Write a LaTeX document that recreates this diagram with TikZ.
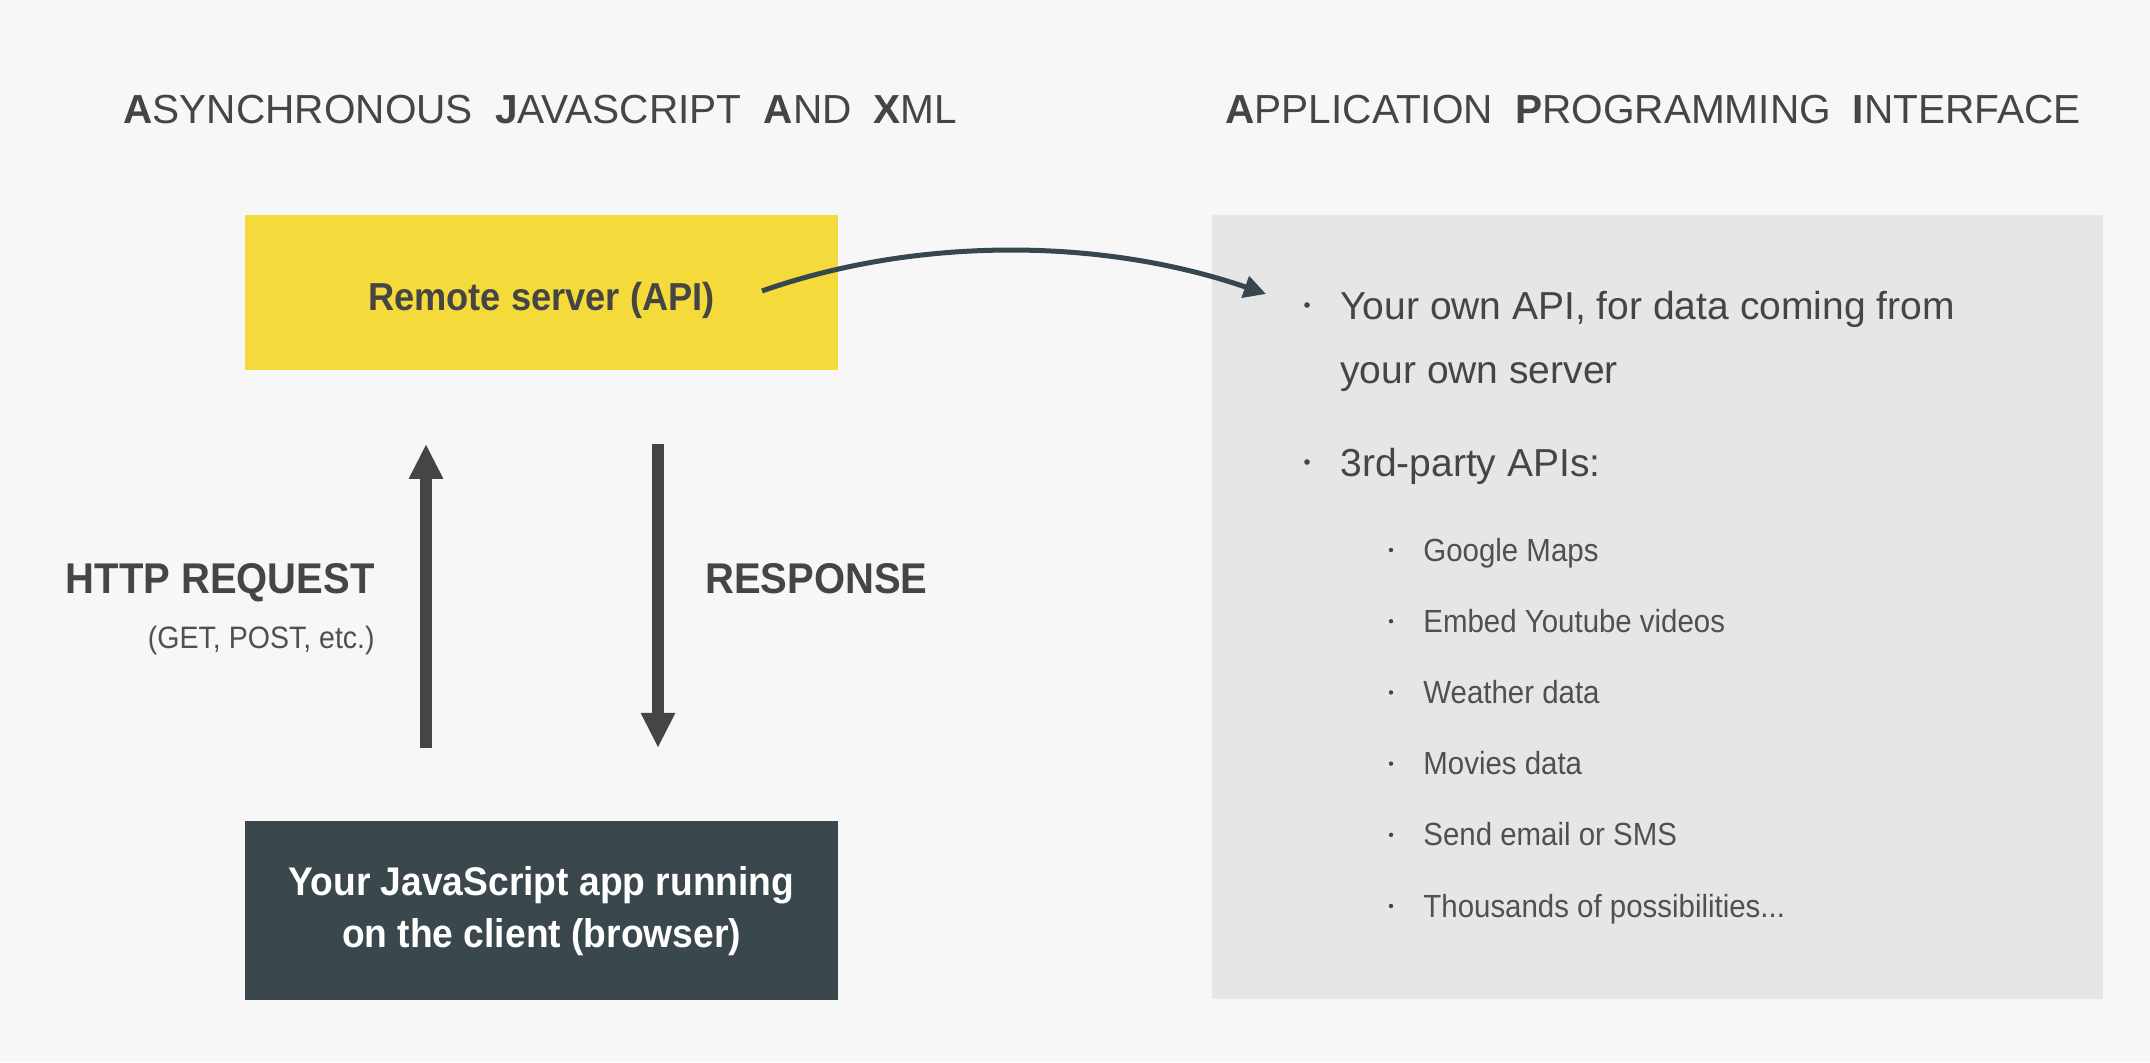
\documentclass[tikz,border=0pt]{standalone}
\usepackage{fontspec}
\setmainfont{Liberation Sans}
\newfontfamily\narrowfont[FakeStretch=0.93]{Liberation Sans}
\newfontfamily\lightfont[FakeStretch=0.92]{Liberation Sans}
\usepackage{xcolor}
\usetikzlibrary{arrows.meta, positioning}

\definecolor{pagegray}{HTML}{F7F7F7}
\definecolor{serveryellow}{HTML}{F4DA3B}
\definecolor{clientslate}{HTML}{3A474D}
\definecolor{panelgray}{HTML}{E6E6E6}
\definecolor{inkgray}{HTML}{454545}
\definecolor{softgray}{HTML}{505050}
\definecolor{curveslate}{HTML}{37474F}

\newcommand{\moredots}{...}

\begin{document}
\begin{tikzpicture}[
x=0.5pt, y=-0.5pt,
box/.style={rectangle, inner sep=0pt, minimum width=296.5pt, minimum height=77.5pt, align=center, font=\narrowfont\bfseries\fontsize{19.5}{24}\selectfont},
panel/.style={rectangle, inner sep=0pt, fill=panelgray, minimum width=445.5pt, minimum height=392pt},
heading/.style={anchor=base west, text=inkgray, inner sep=0pt, font=\fontsize{20.3}{24}\selectfont},
flowlabel/.style={text=inkgray, inner sep=0pt, font=\narrowfont\bfseries\fontsize{21.5}{26}\selectfont},
note/.style={text=softgray, inner sep=0pt, font=\lightfont\fontsize{15.5}{18}\selectfont},
item/.style={anchor=base west, text=inkgray, inner sep=0pt, font=\fontsize{19.5}{23}\selectfont},
subitem/.style={anchor=base west, text=softgray, inner sep=0pt, font=\lightfont\fontsize{16}{19}\selectfont},
dot/.style={circle, fill=inkgray, inner sep=0pt, minimum size=2.8pt},
smalldot/.style={circle, fill=inkgray, inner sep=0pt, minimum size=2.2pt},
arrow/.style={-{Triangle[length=17.5pt, width=16pt]}, line width=6pt, draw=inkgray},
curvearrow/.style={-{Triangle[length=11pt, width=11pt]}, line width=2.5pt, draw=curveslate}
]

\fill[pagegray] (0,0) rectangle (2150,1062);
\useasboundingbox (0,0) rectangle (2150,1062);

\node[heading] (ajaxtitle) at (123,123) {\textbf{A}SYNCHRONOUS\hspace{11pt}\textbf{J}AVASCRIPT\hspace{11pt}\textbf{A}ND\hspace{11pt}\textbf{X}ML};
\node[heading] (apititle) at (1225,123) {\textbf{A}PPLICATION\hspace{11pt}\textbf{P}ROGRAMMING\hspace{11pt}\textbf{I}NTERFACE};

\node[box, fill=serveryellow, text=inkgray, text height=18pt, text depth=0pt] (server) at (541.5,292) {Remote server (API)};
\node[box, fill=clientslate, text=white, minimum height=89.5pt, below=225.5pt of server, font=\narrowfont\bfseries\fontsize{20}{26}\selectfont] (client) {Your JavaScript app running\\on the client (browser)};
\node[panel, right=186.5pt of server.north east, anchor=north west] (apipanel) {};

\draw[arrow, shorten <=36.5pt, shorten >=37pt] ([xshift=-57.75pt]client.north) -- ([xshift=-57.75pt]server.south);
\draw[arrow, shorten <=37pt, shorten >=36.5pt] ([xshift=58.25pt]server.south) -- ([xshift=58.25pt]client.north);

\node[flowlabel, anchor=base east] (request) at (375,593) {HTTP REQUEST};
\node[note, anchor=base east] (methods) at (375,648) {(GET, POST, etc.)};
\node[flowlabel, anchor=base west] (response) at (705,593) {RESPONSE};

\coordinate (apiout) at (762,291);
\coordinate (apiin) at (1266,294);
\draw[curvearrow] (apiout) .. controls (915,237) and (1100,237) .. (apiin);

\node[dot] (owndot) at (1307,305) {};
\node[item] (ownapi) at (1340,319) {Your own API, for data coming from};
\node[item] (ownserver) at (1340,383) {your own server};
\node[dot] (thirddot) at (1307,462) {};
\node[item] (thirdparty) at (1340,476) {3rd-party APIs:};

\foreach \name [count=\i from 0] in {Google Maps, Embed Youtube videos, Weather data, Movies data, Send email or SMS, Thousands of possibilities\moredots} {
  \node[smalldot] (subdot\i) at (1391,550+71.2*\i) {};
  \node[subitem] (sub\i) at (1423,561+71.2*\i) {\name};
}

\end{tikzpicture}
\end{document}
